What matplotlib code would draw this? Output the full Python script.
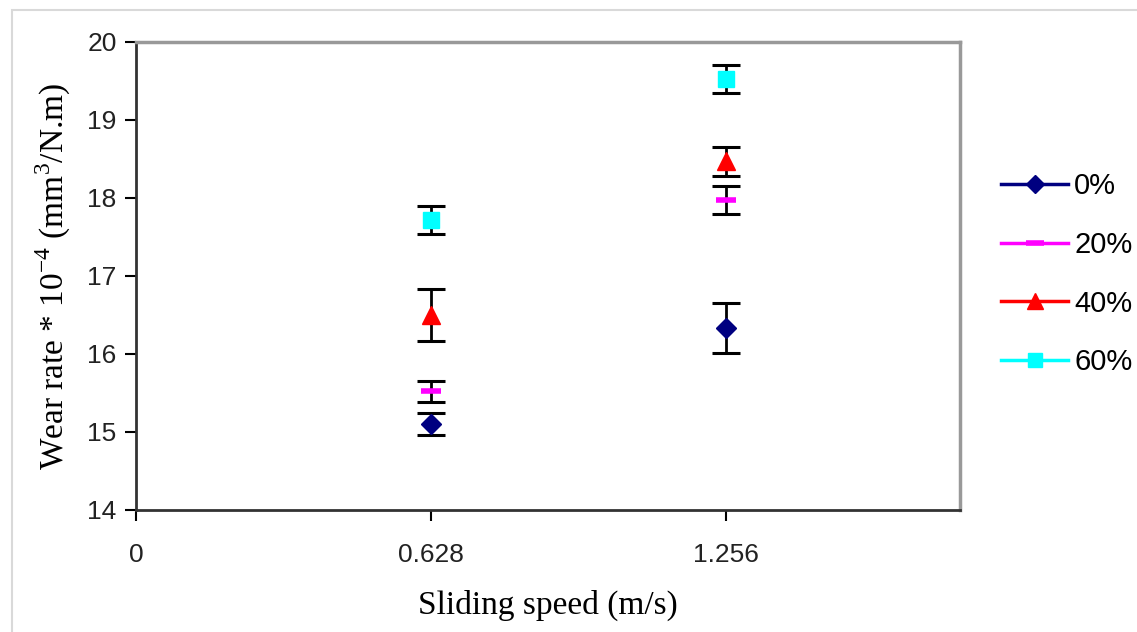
import numpy as np
import matplotlib.pyplot as plt
from matplotlib.lines import Line2D
from matplotlib.patches import Rectangle

plt.rcParams['font.family'] = ['Liberation Sans', 'DejaVu Sans']
plt.rcParams['mathtext.fontset'] = 'custom'
plt.rcParams['mathtext.rm'] = 'Liberation Serif'

# Datos
speed = [0.628, 1.256]
series = ['0%', '20%', '40%', '60%']
wear = {
    '0%': [15.10, 16.33],
    '20%': [15.52, 17.97],
    '40%': [16.50, 18.47],
    '60%': [17.72, 19.52],
}
err = {
    '0%': [0.14, 0.32],
    '20%': [0.13, 0.18],
    '40%': [0.33, 0.19],
    '60%': [0.18, 0.18],
}

# Estilos
colors = {'0%': '#000080', '20%': '#ff00ff', '40%': '#ff0000', '60%': '#00ffff'}
markers = {'0%': 'D', '20%': '_', '40%': '^', '60%': 's'}
msize = {'0%': 10, '20%': 14, '40%': 13, '60%': 11}
mew = {'0%': 1, '20%': 4, '40%': 1, '60%': 1}

fig = plt.figure(figsize=(11.37, 6.32), dpi=100)
ax = fig.add_axes([136 / 1137, 1 - 510 / 632, (960 - 136) / 1137, (510 - 42) / 632])

# Marco exterior gris
fig.patches.append(Rectangle((12 / 1137, -0.01), 1.02, 1 - 10 / 632 + 0.01,
                             transform=fig.transFigure, fill=False,
                             edgecolor='#d9d9d9', linewidth=1.5))

handles = []
for s in series:
    ax.errorbar(speed, wear[s], yerr=err[s], fmt='none', ecolor='black',
                elinewidth=2, capsize=10, capthick=2.2, zorder=2)
    ax.plot(speed, wear[s], linestyle='none', marker=markers[s],
            color=colors[s], markersize=msize[s], markeredgewidth=mew[s], zorder=3)
    handles.append(Line2D([], [], color=colors[s], linewidth=2.5, marker=markers[s],
                          markersize=msize[s] * 0.9, markeredgewidth=mew[s]))

ax.set_xlim(0, 1.754)
ax.set_ylim(14, 20)
ax.set_xticks([0, 0.628, 1.256])
ax.set_xticklabels(['0', '0.628', '1.256'])
ax.set_yticks(np.arange(14, 21, 1))

ax.tick_params(axis='both', direction='out', length=8, width=1.5, labelsize=19,
               colors='black', labelcolor='#222222')
ax.tick_params(axis='x', pad=16)
ax.tick_params(axis='y', pad=6)

ax.spines['left'].set_color('#333333')
ax.spines['bottom'].set_color('#333333')
ax.spines['left'].set_linewidth(2)
ax.spines['bottom'].set_linewidth(2)
ax.spines['top'].set_color('#999999')
ax.spines['right'].set_color('#999999')
ax.spines['top'].set_linewidth(2.5)
ax.spines['right'].set_linewidth(2.5)

ax.set_xlabel('Sliding speed (m/s)', family='Liberation Serif', fontsize=24,
              labelpad=16)
ax.set_ylabel('Wear rate * 10$^{\\mathregular{-4}}$ (mm$^{\\mathregular{3}}$/N.m)',
              family='Liberation Serif', fontsize=24, labelpad=10)

leg = fig.legend(handles, series, loc='upper left', bbox_to_anchor=(975 / 1137, 1 - 146 / 632),
                 frameon=False, fontsize=21, handlelength=2.3, labelspacing=1.05,
                 handletextpad=0.2)

plt.savefig('out.png', dpi=100)
